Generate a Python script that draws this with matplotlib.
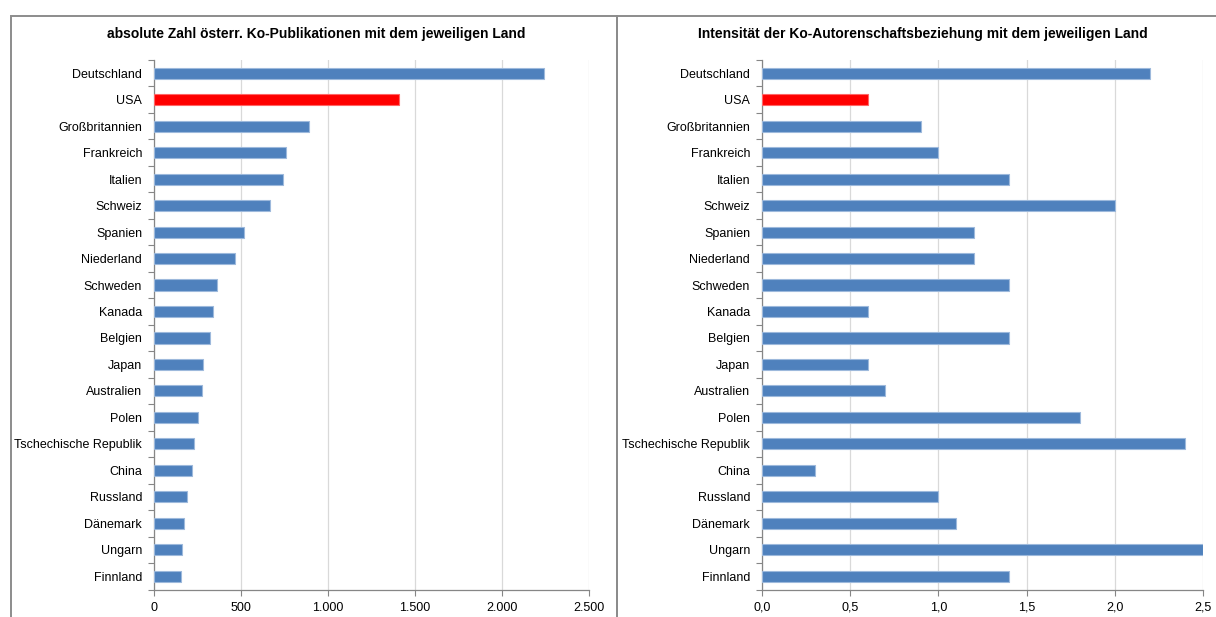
import matplotlib.pyplot as plt
from matplotlib.patches import Rectangle

plt.rcParams['font.family'] = ['Liberation Sans', 'DejaVu Sans']

countries = ['Deutschland', 'USA', 'Großbritannien', 'Frankreich', 'Italien', 'Schweiz',
             'Spanien', 'Niederland', 'Schweden', 'Kanada', 'Belgien', 'Japan',
             'Australien', 'Polen', 'Tschechische Republik', 'China', 'Russland',
             'Dänemark', 'Ungarn', 'Finnland']
abs_counts = [2240, 1410, 890, 760, 740, 665, 520, 467, 363, 341, 321, 281,
              274, 251, 230, 218, 191, 174, 163, 157]
intensity = [2.2, 0.6, 0.9, 1.0, 1.4, 2.0, 1.2, 1.2, 1.4, 0.6, 1.4, 0.6,
             0.7, 1.8, 2.4, 0.3, 1.0, 1.1, 2.5, 1.4]
highlight = 'USA'

left_ticks = [0, 500, 1000, 1500, 2000, 2500]
left_ticklabels = ['0', '500', '1.000', '1.500', '2.000', '2.500']
right_ticks = [0, 0.5, 1.0, 1.5, 2.0, 2.5]
right_ticklabels = ['0,0', '0,5', '1,0', '1,5', '2,0', '2,5']

title_left = 'absolute Zahl österr. Ko-Publikationen mit dem jeweiligen Land'
title_right = 'Intensität der Ko-Autorenschaftsbeziehung mit dem jeweiligen Land'

W, H = 1216, 617
fig = plt.figure(figsize=(W / 100, H / 100), dpi=100)

blue = '#4F81BD'
red = '#FF0000'
frame = '#8C8C8C'

# chart frames
fig.patches.append(Rectangle((10.5 / W, -0.1), (617 - 10.5) / W, 1.1 - 15.5 / H,
                             transform=fig.transFigure, fill=False, ec=frame, lw=1.4))
fig.patches.append(Rectangle((617 / W, -0.1), 0.5, 1.1 - 15.5 / H,
                             transform=fig.transFigure, fill=False, ec=frame, lw=1.4))


def panel(x0, width, values, ticks, ticklabels, xmax):
    ax = fig.add_axes([x0 / W, (H - 589.5) / H, width / W, (589.5 - 60) / H])
    ypos = list(range(len(countries)))
    colors = [red if c == highlight else blue for c in countries]
    edges = ['#FF6666' if c == highlight else '#9DB9DC' for c in countries]
    ax.barh(ypos, values, height=0.42, color=colors, edgecolor=edges, linewidth=0.8, zorder=3)
    ax.set_ylim(len(countries) - 0.5, -0.5)
    ax.set_xlim(0, xmax)
    ax.set_yticks(ypos)
    ax.set_yticklabels(countries, fontsize=9)
    ax.set_yticks([i - 0.5 for i in range(len(countries) + 1)], minor=True)
    ax.tick_params(axis='y', which='major', length=0, pad=8.5)
    ax.tick_params(axis='y', which='minor', length=4, color='#868686', width=0.8)
    ax.set_xticks(ticks)
    ax.set_xticklabels(ticklabels, fontsize=9)
    ax.tick_params(axis='x', length=4, color='#868686', width=0.8, pad=5)
    ax.grid(axis='x', color='#D9D9D9', lw=0.9, zorder=0)
    for s in ['top', 'right']:
        ax.spines[s].set_visible(False)
    for s in ['left', 'bottom']:
        ax.spines[s].set_color('#868686')
        ax.spines[s].set_linewidth(0.9)
    return ax


panel(154, 435, abs_counts, left_ticks, left_ticklabels, 2500)
panel(762, 441, intensity, right_ticks, right_ticklabels, 2.5)

fig.text(316 / W, 1 - 34 / H, title_left, ha='center', va='center', fontsize=10, fontweight='bold')
fig.text(923 / W, 1 - 34 / H, title_right, ha='center', va='center', fontsize=10, fontweight='bold')

fig.savefig('out.png', dpi=100)
